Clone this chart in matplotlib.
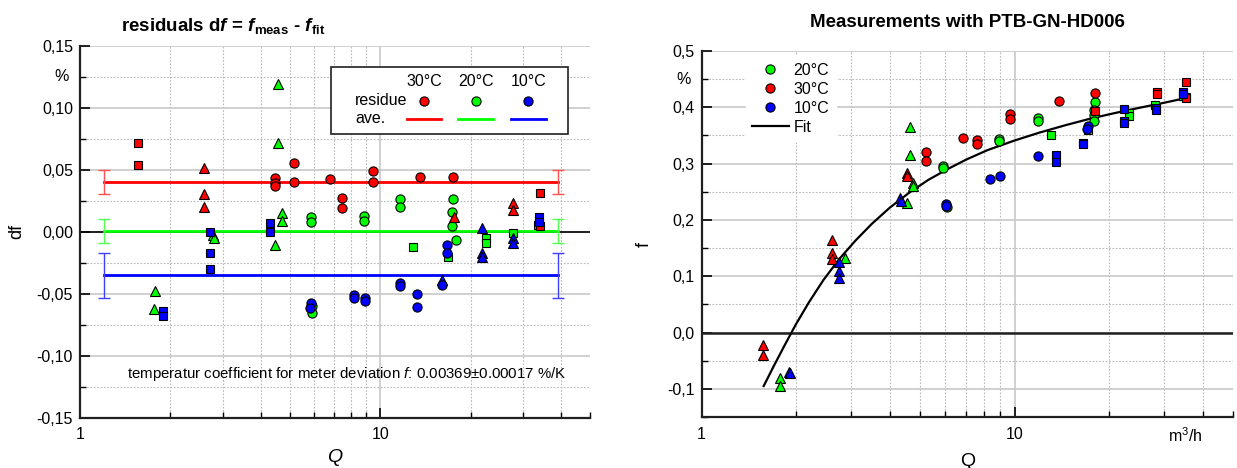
import matplotlib
matplotlib.use("Agg")
import matplotlib.pyplot as plt
import matplotlib.ticker as mticker
import matplotlib.transforms as mtransforms
from matplotlib.lines import Line2D
from matplotlib.patches import Rectangle

plt.rcParams['font.family'] = ['Liberation Sans', 'DejaVu Sans']
plt.rcParams['axes.unicode_minus'] = False
plt.rcParams['mathtext.fontset'] = 'custom'
plt.rcParams['mathtext.rm'] = 'Liberation Sans'
plt.rcParams['mathtext.it'] = 'Liberation Sans:italic'
plt.rcParams['mathtext.bf'] = 'Liberation Sans:bold'
plt.rcParams['mathtext.bfit'] = 'Liberation Sans:italic:bold'

RED, GREEN, BLUE = '#ff0000', '#00ff00', '#0000ff'

# --- residuals (left panel): Q in m3/h, df in % ---
res_red_sq_q = [1.565, 1.565, 34.1, 34.0]
res_red_sq_df = [0.0716, 0.0536, 0.0308, 0.0044]
res_red_tri_q = [2.59, 2.59, 2.59, 17.6, 27.7, 27.7]
res_red_tri_df = [0.051, 0.0302, 0.0195, 0.0114, 0.0227, 0.0173]
res_red_ci_q = [4.47, 4.47, 4.47, 5.16, 5.16, 6.78, 7.45, 7.45, 9.5, 9.5, 13.6, 17.5]
res_red_ci_df = [0.0429, 0.0395, 0.0365, 0.0556, 0.0404, 0.0427, 0.0275, 0.0192,
                 0.049, 0.0398, 0.0442, 0.0437]

res_green_tri_q = [1.778, 1.77, 2.78, 2.8, 4.55, 4.55, 4.7, 4.7, 4.47]
res_green_tri_df = [-0.0477, -0.0625, -0.003, -0.0055, 0.119, 0.0711, 0.0147, 0.0085, -0.0112]
res_green_ci_q = [5.87, 5.87, 5.95, 5.95, 8.8, 8.8, 11.66, 11.66, 17.5, 17.4, 17.4, 17.9]
res_green_ci_df = [0.0119, 0.0081, -0.0598, -0.066, 0.0127, 0.0087, 0.026, 0.0195,
                   0.026, 0.016, 0.0044, -0.0069]
res_green_sq_q = [12.85, 16.8, 22.6, 22.6, 27.7, 33.6]
res_green_sq_df = [-0.0123, -0.0203, -0.0055, -0.0095, -0.001, 0.005]

res_blue_sq_q = [1.896, 1.896, 2.71, 2.71, 2.71, 4.28, 4.28, 33.8, 33.8]
res_blue_sq_df = [-0.0641, -0.0679, 0.0, -0.0171, -0.0305, 0.0066, 0.0, 0.0119, 0.008]
res_blue_tri_q = [16.1, 21.9, 21.9, 21.9, 27.7, 27.7]
res_blue_tri_df = [-0.039, 0.0026, -0.0176, -0.0208, -0.0055, -0.0095]
res_blue_ci_q = [5.89, 5.85, 8.21, 8.21, 8.91, 8.91, 11.6, 11.6, 13.3, 13.3, 16.7, 16.7, 16.1]
res_blue_ci_df = [-0.0579, -0.062, -0.0512, -0.0534, -0.0539, -0.0558, -0.0418, -0.0437,
                  -0.0504, -0.0606, -0.0109, -0.0171, -0.0431]

# averages per temperature and their uncertainty
ave_q = [1.2, 39.0]
ave_df = {'30': 0.0402, '20': 0.0005, '10': -0.0353}
ave_err = {'30': 0.0095, '20': 0.0096, '10': 0.0182}

# --- measurements (right panel): Q in m3/h, f in % ---
f_green_tri_q = [1.78, 1.78, 2.87, 4.64, 4.64, 4.73, 4.73, 4.52]
f_green_tri = [-0.080, -0.095, 0.1317, 0.3647, 0.3156, 0.2654, 0.2594, 0.230]
f_red_tri_q = [1.576, 1.576, 2.62, 2.62, 2.62, 4.52, 4.55]
f_red_tri = [-0.0213, -0.0402, 0.1637, 0.142, 0.1307, 0.2832, 0.2784]
f_blue_tri_q = [1.908, 1.92, 2.75, 2.75, 2.75, 4.31, 4.34]
f_blue_tri = [-0.0697, -0.072, 0.1246, 0.1087, 0.097, 0.2388, 0.2328]

f_green_ci_q = [5.93, 5.93, 6.1, 8.94, 8.94, 11.89, 11.89, 18.1, 18.0, 18.0, 18.0]
f_green_ci = [0.2949, 0.292, 0.2229, 0.344, 0.3404, 0.3817, 0.3759, 0.409, 0.395, 0.3865, 0.3759]
f_red_ci_q = [5.22, 5.22, 6.86, 7.6, 7.6, 9.67, 9.67, 13.87, 18.04]
f_red_ci = [0.3215, 0.3055, 0.3463, 0.3422, 0.3345, 0.3883, 0.3789, 0.4113, 0.426]
f_blue_ci_q = [6.03, 6.03, 8.35, 8.99, 11.85, 17.14, 17.1]
f_blue_ci = [0.2287, 0.224, 0.273, 0.2784, 0.3138, 0.3676, 0.3611]

f_green_sq_q = [13.05, 17.14, 23.2, 23.2, 28.2, 34.6]
f_green_sq = [0.3511, 0.360, 0.3895, 0.3848, 0.4043, 0.42]
f_red_sq_q = [18.1, 28.6, 28.6, 35.4, 35.3, 35.3]
f_red_sq = [0.3936, 0.4278, 0.4232, 0.4456, 0.419, 0.416]
f_blue_sq_q = [13.57, 13.57, 16.51, 16.51, 22.43, 22.43, 22.43, 28.4, 28.4, 34.6, 34.6]
f_blue_sq = [0.3156, 0.3037, 0.3374, 0.3345, 0.397, 0.3764, 0.373, 0.3984, 0.3954, 0.4268, 0.424]

# fit curve
fit_q = [1.58, 1.7, 1.85, 2.0, 2.2, 2.45, 2.75, 3.1, 3.5, 4.0, 4.6, 5.3, 6.1, 7.0, 8.2,
         10, 12, 14.5, 17.5, 21, 25, 30, 35]
fit_f = [-0.095, -0.060, -0.021, 0.014, 0.053, 0.093, 0.130, 0.163, 0.193, 0.222, 0.248,
         0.271, 0.290, 0.307, 0.324, 0.341, 0.355, 0.368, 0.380, 0.390, 0.399, 0.408, 0.416]

MS = {'o': 6.6, 's': 5.6, '^': 7.2}


def pts(ax, q, y, marker, color):
    ax.plot(q, y, linestyle='none', marker=marker, ms=MS[marker], mfc=color,
            mec='black', mew=0.8, zorder=4, clip_on=False)


def style_axes(ax, ymin, ymax, ymaj, ymin_step, fmt, pct_at, xmax):
    ax.set_xscale('log')
    ax.set_xlim(1, xmax)
    ax.set_ylim(ymin, ymax)
    ax.xaxis.set_major_locator(mticker.FixedLocator([1, 10]))
    ax.xaxis.set_major_formatter(mticker.FixedFormatter(['1', '10']))
    ax.xaxis.set_minor_locator(mticker.LogLocator(base=10, subs=range(2, 10)))
    ax.xaxis.set_minor_formatter(mticker.NullFormatter())
    ax.yaxis.set_major_locator(mticker.MultipleLocator(ymaj))
    ax.yaxis.set_minor_locator(mticker.MultipleLocator(ymin_step))
    ax.yaxis.set_major_formatter(mticker.FuncFormatter(lambda v, p: fmt.format(v).replace('.', ',')))
    ax.grid(True, which='major', color='#c8c8c8', lw=1.2, ls='-')
    ax.grid(True, which='minor', color='#b8b8b8', lw=0.8, ls=(0, (1.5, 1.5)))
    ax.set_axisbelow(True)
    for s in ('top', 'right'):
        ax.spines[s].set_visible(False)
    for s in ('left', 'bottom'):
        ax.spines[s].set_linewidth(1.6)
        ax.spines[s].set_color('#202020')
    ax.tick_params(which='major', direction='in', length=7, width=1.2, labelsize=11.5, pad=5)
    ax.tick_params(which='minor', direction='in', length=4, width=1.0)
    ax.tick_params(axis='x', which='major', pad=7)
    tr = mtransforms.blended_transform_factory(ax.transAxes, ax.transData)
    ax.annotate('%', xy=(0, pct_at), xycoords=tr, xytext=(-13, 0), textcoords='offset points',
                ha='center', va='center', fontsize=11.5)


fig = plt.figure(figsize=(12.37, 4.68), dpi=100)

# ---------------- left panel ----------------
ax1 = fig.add_axes([80 / 1237, 1 - 417.5 / 468, 510 / 1237, 371.8 / 468])
style_axes(ax1, -0.15, 0.15, 0.05, 0.025, '{:.2f}', 0.125, 50)
ax1.axhline(0, color='black', lw=1.2, zorder=2)

for key, col, ecol in (('30', RED, '#ff5050'), ('20', GREEN, '#50ff50'), ('10', BLUE, '#4040ff')):
    ax1.plot(ave_q, [ave_df[key]] * 2, color=col, lw=2.0, zorder=3)
    ax1.errorbar(ave_q, [ave_df[key]] * 2, yerr=ave_err[key], fmt='none', ecolor=ecol,
                 elinewidth=1.0, capsize=4, capthick=1.0, zorder=3)

pts(ax1, res_green_tri_q, res_green_tri_df, '^', GREEN)
pts(ax1, res_green_ci_q, res_green_ci_df, 'o', GREEN)
pts(ax1, res_green_sq_q, res_green_sq_df, 's', GREEN)
pts(ax1, res_red_sq_q, res_red_sq_df, 's', RED)
pts(ax1, res_red_tri_q, res_red_tri_df, '^', RED)
pts(ax1, res_red_ci_q, res_red_ci_df, 'o', RED)
pts(ax1, res_blue_sq_q, res_blue_sq_df, 's', BLUE)
pts(ax1, res_blue_tri_q, res_blue_tri_df, '^', BLUE)
pts(ax1, res_blue_ci_q, res_blue_ci_df, 'o', BLUE)

ax1.set_ylabel('df', fontsize=13)
ax1.yaxis.set_label_coords(-0.108, 0.5)
ax1.set_xlabel('$Q$', fontsize=14)
ax1.xaxis.set_label_coords(0.5, -0.078)

ax1.text(0.28, 1.04, r'residuals d$\mathbfit{f}$ = $\mathbfit{f}_{\mathbf{meas}}$ - $\mathbfit{f}_{\mathbf{fit}}$',
         transform=ax1.transAxes, ha='center', va='baseline', fontsize=13.5, fontweight='bold')

ax1.text(0.092, 0.117, r'temperatur coefficient for meter deviation $f$: 0.00369$\pm$0.00017 %/K',
         transform=ax1.transAxes, ha='left', va='center', fontsize=10.8)

# legend table
ax1.add_patch(Rectangle((0.492, 0.762), 0.465, 0.180, transform=ax1.transAxes, fc='white',
                        ec='#202020', lw=1.2, zorder=6))
cols = (('30°C', RED, 0.6745), ('20°C', GREEN, 0.776), ('10°C', BLUE, 0.879))
for lab, col, xc in cols:
    ax1.text(xc, 0.903, lab, transform=ax1.transAxes, ha='center', va='center', fontsize=11.5, zorder=7)
    ax1.plot([xc], [0.852], transform=ax1.transAxes, marker='o', ms=MS['o'], mfc=col, mec='black',
             mew=0.8, ls='none', zorder=7, clip_on=False)
    ax1.plot([xc - 0.034, xc + 0.034], [0.803, 0.803], transform=ax1.transAxes, color=col, lw=2.0,
             zorder=7, clip_on=False)
ax1.text(0.539, 0.852, 'residue', transform=ax1.transAxes, ha='left', va='center', fontsize=11.5, zorder=7)
ax1.text(0.539, 0.803, 'ave.', transform=ax1.transAxes, ha='left', va='center', fontsize=11.5, zorder=7)

# ---------------- right panel ----------------
ax2 = fig.add_axes([701.5 / 1237, 1 - 417 / 468, 531.8 / 1237, 366 / 468])
style_axes(ax2, -0.15, 0.5, 0.1, 0.05, '{:.1f}', 0.45, 50)
ax2.axhline(0, color='#202020', lw=1.8, zorder=2)

ax2.plot(fit_q, fit_f, color='black', lw=1.6, zorder=3)

pts(ax2, f_green_tri_q, f_green_tri, '^', GREEN)
pts(ax2, f_green_ci_q, f_green_ci, 'o', GREEN)
pts(ax2, f_green_sq_q, f_green_sq, 's', GREEN)
pts(ax2, f_red_tri_q, f_red_tri, '^', RED)
pts(ax2, f_red_ci_q, f_red_ci, 'o', RED)
pts(ax2, f_red_sq_q, f_red_sq, 's', RED)
pts(ax2, f_blue_tri_q, f_blue_tri, '^', BLUE)
pts(ax2, f_blue_ci_q, f_blue_ci, 'o', BLUE)
pts(ax2, f_blue_sq_q, f_blue_sq, 's', BLUE)

ax2.set_ylabel('f', fontsize=13)
ax2.yaxis.set_label_coords(-0.091, 0.47)
ax2.set_xlabel('Q', fontsize=14)
ax2.xaxis.set_label_coords(0.5, -0.097)
ax2.set_title('Measurements with PTB-GN-HD006', fontsize=13.5, fontweight='bold', pad=17)

tr2 = mtransforms.blended_transform_factory(ax2.transData, ax2.transAxes)
ax2.annotate('m$^3$/h', xy=(35, 0), xycoords=tr2, xytext=(0, -7), textcoords='offset points',
             ha='center', va='top', fontsize=11.5)

handles = [Line2D([], [], ls='none', marker='o', ms=MS['o'], mfc=GREEN, mec='black', mew=0.8),
           Line2D([], [], ls='none', marker='o', ms=MS['o'], mfc=RED, mec='black', mew=0.8),
           Line2D([], [], ls='none', marker='o', ms=MS['o'], mfc=BLUE, mec='black', mew=0.8),
           Line2D([], [], color='black', lw=1.6)]
leg = ax2.legend(handles, ['20°C', '30°C', '10°C', 'Fit'], loc='upper left',
                 bbox_to_anchor=(0.083, 0.985), fontsize=11.5, frameon=True, fancybox=False,
                 edgecolor='white', framealpha=1, borderpad=0.4, handlelength=2.3,
                 handletextpad=0.3, labelspacing=0.25, borderaxespad=0)
leg.set_zorder(5)

fig.savefig('out.png', dpi=100)
